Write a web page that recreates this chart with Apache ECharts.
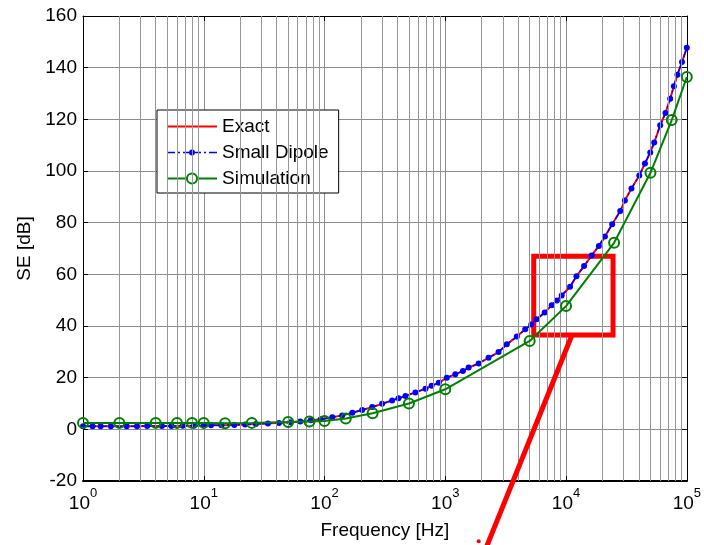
<!DOCTYPE html>
<html>
<head>
<meta charset="utf-8">
<script src="https://cdn.jsdelivr.net/npm/echarts@6/dist/echarts.min.js"></script>
<style>
html, body { margin: 0; padding: 0; background: #fff; }
#chart { width: 704px; height: 545px; }
</style>
</head>
<body>
<div id="chart"></div>
<script>
var FONT = 'Arial, "Liberation Sans", sans-serif';

// Small dipole / exact curve (Hz, dB)
var dipoleFreq = [1, 1.2, 1.4, 1.7, 2.3, 2.8, 3.4, 4.5, 5.4, 6.7, 8.3, 10, 11.5, 14, 17.9, 22, 27, 34, 42, 52, 63, 77, 93,
    116, 140, 170, 205, 248, 300, 363, 410, 468, 565, 685, 770, 883, 1030, 1210, 1400, 1560, 1890, 2280, 2760, 3230,
    3910, 4590, 5150, 5710, 6650, 7600, 8400, 9200, 10800, 12200, 14100, 16300, 18700, 21000, 24100, 28100, 30700,
    34800, 40400, 45000, 49800, 53700, 60200, 66600, 72800, 78100, 83600, 91200, 100000];
var dipoleSE = [1.2, 1.2, 1.2, 1.2, 1.2, 1.2, 1.3, 1.3, 1.3, 1.4, 1.4, 1.5, 1.6, 1.6, 1.7, 1.9, 2.1, 2.3, 2.5, 2.7, 3.0, 3.5, 3.9,
    4.7, 5.4, 6.4, 7.5, 8.6, 9.9, 11.2, 12.0, 12.9, 14.3, 15.7, 16.9, 18.0, 20.0, 21.3, 22.6, 23.9, 25.5, 27.7, 29.9, 32.9,
    35.9, 38.7, 40.6, 42.6, 45.2, 48.0, 49.9, 51.8, 55.2, 59.3, 63.2, 67.3, 71.0, 74.6, 79.4, 84.5, 88.6,
    93.2, 98.3, 102.9, 107.2, 111.0, 117.7, 122.5, 128.0, 132.8, 137.3, 142.2, 147.7];
// the exact solution sits under the dipole curve
var exactFreq = dipoleFreq;
var exactSE = dipoleSE;

// simulation points
var simFreq = [1, 2, 4, 6, 8, 10, 15, 25, 50, 75, 100, 150, 250, 500, 1000, 5000, 10000, 25000, 50000, 75000, 100000];
var simSE = [2.5, 2.5, 2.5, 2.5, 2.5, 2.5, 2.4, 2.5, 2.8, 3.0, 3.2, 4.2, 6.2, 10.0, 15.5, 34.2, 47.7, 72.2, 99.3, 119.7, 136.4];

var decades = [1, 10, 100, 1000, 10000];
var minorMult = [2, 3, 4, 5, 6, 7, 8, 9];

// red zoom box and pointer (data coords)
var zoomBox = [5400, 24500, 36.5, 67];
var pointerFrom = [11200, 36.5];
var pointerTo = [2130, -47];
var pointerDot = [1890, -43.3];

// legend icons, matlab style
var ICON_EXACT = 'path://M0,6L50,6L50,8L0,8Z';
var ICON_DIPOLE = 'path://M0,6.3L8,6.3L8,7.7L0,7.7Z M11,6.3L13,6.3L13,7.7L11,7.7Z M16,6.3L22,6.3L22,7.7L16,7.7Z ' +
    'M28,7A3,3 0 1,1 22,7A3,3 0 1,1 28,7Z M28,6.3L34,6.3L34,7.7L28,7.7Z M37,6.3L39,6.3L39,7.7L37,7.7Z M42,6.3L50,6.3L50,7.7L42,7.7Z';
var ICON_SIM = 'path://M0,6L19.5,6L19.5,8L0,8Z M30.5,6L50,6L50,8L30.5,8Z ' +
    'M31,7A6,6 0 1,1 19,7A6,6 0 1,1 31,7Z M29,7A4,4 0 1,0 21,7A4,4 0 1,0 29,7Z';

function pairs(xs, ys) {
    return xs.map(function (x, i) { return [x, ys[i]]; });
}

var minorLines = [];
decades.forEach(function (d) {
    minorMult.forEach(function (m) { minorLines.push({ xAxis: d * m }); });
});

var chart = echarts.init(document.getElementById('chart'));
var option = {
    animation: false,
    backgroundColor: '#fff',
    grid: { left: 83, right: 15, top: 16, bottom: 63 },
    legend: {
        data: [
            { name: 'Exact', icon: ICON_EXACT, itemStyle: { color: '#ff0000', borderWidth: 0 } },
            { name: 'Small Dipole', icon: ICON_DIPOLE, itemStyle: { color: '#0000ff', borderWidth: 0 } },
            { name: 'Simulation', icon: ICON_SIM, itemStyle: { color: '#008000', borderWidth: 0 } }
        ],
        orient: 'vertical',
        left: 157, top: 110,
        padding: [7, 10, 5, 10],
        itemGap: 7,
        itemWidth: 50, itemHeight: 14,
        backgroundColor: '#fff',
        borderColor: '#000', borderWidth: 1,
        textStyle: { fontFamily: FONT, fontSize: 19, color: '#000' }
    },
    xAxis: [{
        type: 'log', logBase: 10, min: 1, max: 100000,
        position: 'bottom',
        name: 'Frequency [Hz]', nameLocation: 'middle', nameGap: 40,
        nameTextStyle: { fontFamily: FONT, fontSize: 19, color: '#000' },
        axisLine: { onZero: false, lineStyle: { color: '#000', width: 2 } },
        axisTick: { inside: true, length: 5, lineStyle: { color: '#000' } },
        axisLabel: {
            margin: 6,
            formatter: function (v) {
                return '{b|10}{s|' + Math.round(Math.log10(v)) + '}';
            },
            rich: {
                b: { fontFamily: FONT, fontSize: 19, color: '#000', lineHeight: 26, verticalAlign: 'bottom' },
                s: { fontFamily: FONT, fontSize: 13, color: '#000', lineHeight: 13, verticalAlign: 'top' }
            }
        },
        splitLine: { show: true, lineStyle: { color: '#8c8c8c', width: 1 } }
    }, {
        type: 'log', logBase: 10, min: 1, max: 100000,
        position: 'top',
        axisLine: { onZero: false, lineStyle: { color: '#000', width: 1 } },
        axisTick: { inside: true, length: 5, lineStyle: { color: '#000' } },
        axisLabel: { show: false },
        splitLine: { show: false }
    }],
    yAxis: [{
        type: 'value', min: -20, max: 160, interval: 20,
        name: 'SE [dB]', nameLocation: 'middle', nameGap: 48,
        nameTextStyle: { fontFamily: FONT, fontSize: 19, color: '#000' },
        axisLine: { show: true, onZero: false, lineStyle: { color: '#000', width: 1 } },
        axisTick: { show: true, inside: true, length: 5, lineStyle: { color: '#000' } },
        axisLabel: { margin: 6, fontFamily: FONT, fontSize: 19, color: '#000' },
        splitLine: { show: true, lineStyle: { color: '#8c8c8c', width: 1 } }
    }, {
        type: 'value', min: -20, max: 160, interval: 20,
        position: 'right',
        axisLine: { show: true, onZero: false, lineStyle: { color: '#000', width: 1 } },
        axisTick: { show: true, inside: true, length: 5, lineStyle: { color: '#000' } },
        axisLabel: { show: false },
        splitLine: { show: false }
    }],
    series: [{
        name: 'grid',
        type: 'line',
        data: [],
        z: 1,
        silent: true,
        markLine: {
            silent: true,
            symbol: 'none',
            label: { show: false },
            lineStyle: { color: '#969696', width: 1, type: 'solid' },
            data: minorLines
        }
    }, {
        name: 'Exact',
        type: 'line',
        data: pairs(exactFreq, exactSE),
        symbol: 'none',
        lineStyle: { color: '#ff0000', width: 2 },
        itemStyle: { color: '#ff0000' },
        z: 3
    }, {
        name: 'Small Dipole',
        type: 'line',
        data: pairs(dipoleFreq, dipoleSE),
        symbol: 'circle', symbolSize: 6,
        lineStyle: { color: '#0000ff', width: 1.5, type: [8, 3, 2, 3] },
        itemStyle: { color: '#0000ff' },
        z: 4
    }, {
        name: 'Simulation',
        type: 'line',
        data: pairs(simFreq, simSE),
        symbol: 'circle', symbolSize: 10,
        lineStyle: { color: '#008000', width: 2 },
        itemStyle: { color: 'rgba(255,255,255,0)', borderColor: '#008000', borderWidth: 2 },
        z: 5
    }, {
        name: 'box',
        type: 'line',
        data: [],
        z: 6,
        silent: true,
        markArea: {
            silent: true,
            itemStyle: { color: 'rgba(0,0,0,0)', borderColor: '#ff0000', borderWidth: 5 },
            data: [[{ coord: [zoomBox[0], zoomBox[2]] }, { coord: [zoomBox[1], zoomBox[3]] }]]
        }
    }]
};
chart.setOption(option);

var p0 = chart.convertToPixel({ xAxisIndex: 0, yAxisIndex: 0 }, pointerFrom);
var p1 = chart.convertToPixel({ xAxisIndex: 0, yAxisIndex: 0 }, pointerTo);
var pd = chart.convertToPixel({ xAxisIndex: 0, yAxisIndex: 0 }, pointerDot);
chart.setOption({
    graphic: [{
        type: 'line', z: 100,
        shape: { x1: p0[0], y1: p0[1], x2: p1[0], y2: p1[1] },
        style: { stroke: '#ff0000', lineWidth: 5 }
    }, {
        type: 'circle', z: 100,
        shape: { cx: pd[0], cy: pd[1], r: 2 },
        style: { fill: '#ff0000' }
    }]
});
</script>
</body>
</html>
